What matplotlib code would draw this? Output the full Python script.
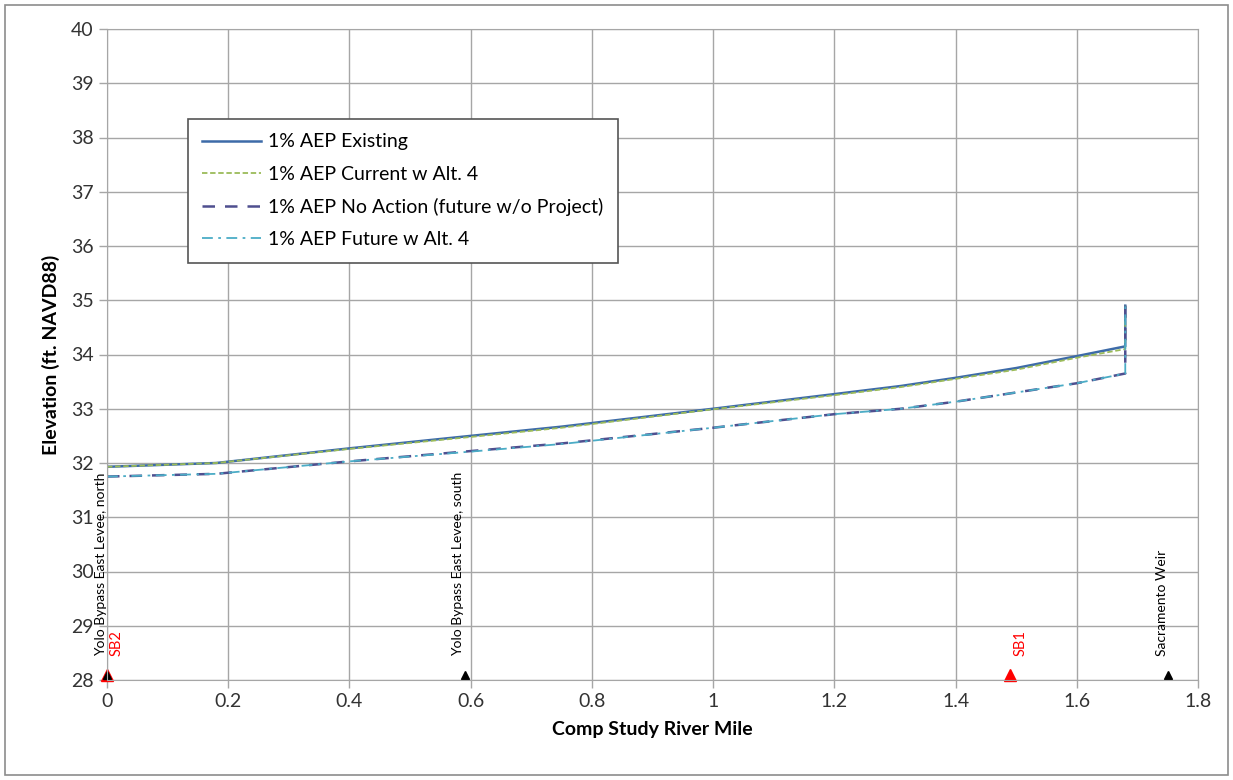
import matplotlib.pyplot as plt
from matplotlib.patches import Rectangle

plt.rcParams['font.family'] = ['Lato', 'DejaVu Sans']

# river mile / elevation profiles
mile = [0, 0.18, 0.4, 0.6, 0.75, 1.0, 1.2, 1.31, 1.4, 1.5, 1.6, 1.68, 1.68]
existing = [31.93, 32.0, 32.27, 32.5, 32.67, 33.0, 33.27, 33.42, 33.57, 33.75, 33.97, 34.15, 34.9]
current_alt4 = [31.93, 32.0, 32.26, 32.48, 32.65, 32.99, 33.25, 33.4, 33.55, 33.72, 33.94, 34.1, 34.9]
no_action = [31.75, 31.8, 32.03, 32.22, 32.36, 32.65, 32.9, 33.0, 33.13, 33.3, 33.47, 33.65, 34.9]
future_alt4 = [31.75, 31.8, 32.03, 32.21, 32.35, 32.65, 32.9, 33.0, 33.13, 33.3, 33.47, 33.65, 34.9]

# location markers
loc_x = [0, 0.59, 1.75]
loc_names = ["Yolo Bypass East Levee, north", "Yolo Bypass East Levee, south", "Sacramento Weir"]
gage_x = [0, 1.49]
gage_names = ["SB2", "SB1"]
marker_y = 28.1

fig = plt.figure(figsize=(12.33, 7.8), dpi=100)
ax = fig.add_axes([107/1233, 100/780, 1091/1233, 651/780])
fig.patches.append(Rectangle((5/1233, 5/780), 1223/1233, 770/780, transform=fig.transFigure,
                             fill=False, edgecolor='#8c8c8c', lw=1.2))

ax.plot(mile, existing, color='#3d6ba8', lw=1.8, label='1% AEP Existing')
ax.plot(mile, current_alt4, color='#9bbb59', lw=1.3, ls=(0, (3, 1.5)), label='1% AEP Current w Alt. 4')
ax.plot(mile, no_action, color='#4f4f8f', lw=1.8, ls=(0, (5, 4)), label='1% AEP No Action (future w/o Project)')
ax.plot(mile, future_alt4, color='#4bacc6', lw=1.3, ls=(0, (6, 3, 1.5, 3)), label='1% AEP Future w Alt. 4')

for gx, name in zip(gage_x, gage_names):
    ax.plot(gx, marker_y, marker='^', color='red', ms=9, ls='none', clip_on=False)
    ax.text(gx + 0.005, 28.45, name, color='red', rotation=90, ha='left', va='bottom', fontsize=10.5)
for lx, name in zip(loc_x, loc_names):
    ax.plot(lx, marker_y, marker='^', color='black', ms=6, ls='none', clip_on=False)
    ax.text(lx - 0.02, 28.45, name, color='black', rotation=90, ha='left', va='bottom', fontsize=10)

ax.set_xlim(0, 1.8)
ax.set_ylim(28, 40)
ax.set_xticks([0, 0.2, 0.4, 0.6, 0.8, 1, 1.2, 1.4, 1.6, 1.8])
ax.set_xticklabels(['0', '0.2', '0.4', '0.6', '0.8', '1', '1.2', '1.4', '1.6', '1.8'])
ax.set_yticks(range(28, 41))
ax.grid(True, color='#a6a6a6', lw=1)
ax.set_axisbelow(True)
for s in ax.spines.values():
    s.set_color('#a6a6a6')
ax.tick_params(labelsize=14, colors='#333333', length=6, width=1, color='#a6a6a6')
ax.set_xlabel('Comp Study River Mile', fontsize=14, fontweight='bold', labelpad=8)
ax.set_ylabel('Elevation (ft. NAVD88)', fontsize=14, fontweight='bold', labelpad=8)

leg = ax.legend(loc='upper left', bbox_to_anchor=(0.074, 0.862), fontsize=14, frameon=True,
                fancybox=False, edgecolor='#555555', framealpha=1, handlelength=3,
                borderpad=0.75, labelspacing=0.78, borderaxespad=0, handletextpad=0.4)
leg.get_frame().set_linewidth(1.2)

fig.savefig('out.png', dpi=100)
